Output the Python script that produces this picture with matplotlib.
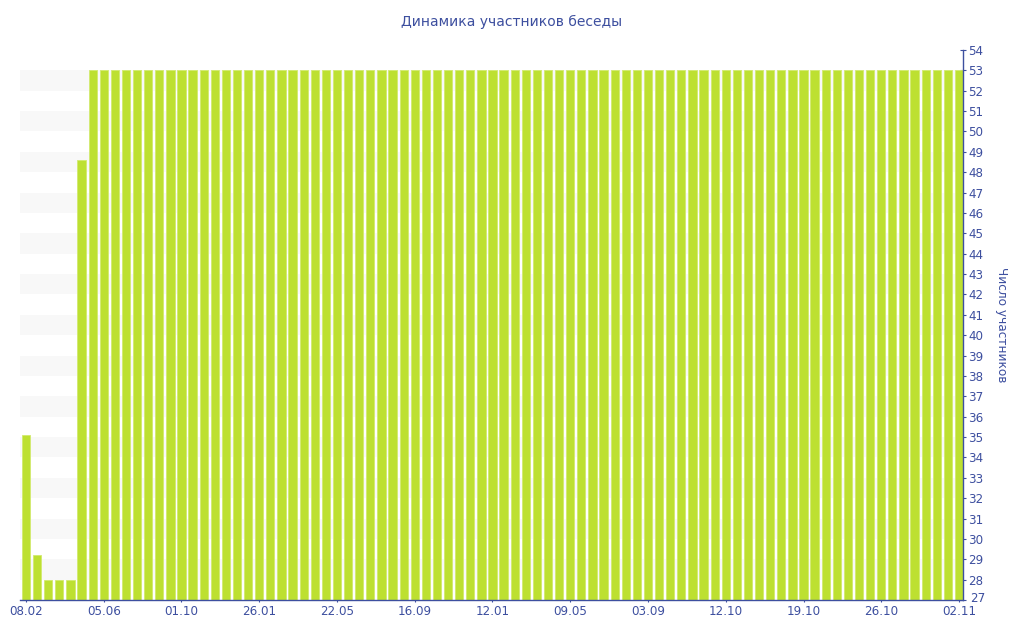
"""
Динамика участников беседы — столбчатая диаграмма с правой осью Y
"""

import matplotlib
matplotlib.use('Agg')
import matplotlib.pyplot as plt
import matplotlib.transforms as mtransforms

# Данные
valores = [35.1, 29.2, 28, 28, 28, 48.6] + [53] * 79
rotulos_x = ['08.02', '05.06', '01.10', '26.01', '22.05', '16.09', '12.01',
             '09.05', '03.09', '12.10', '19.10', '26.10', '02.11']
passo_rotulo = 7

COR_TEXTO = '#3d4f9f'
COR_BARRA = '#bde031'

fig = plt.figure(figsize=(10.24, 6.4), dpi=100)
ax = fig.add_axes([20 / 1024, 40 / 640, 943 / 1024, 550 / 640])

x = list(range(len(valores)))

# Faixas cinzas alternadas no fundo
for k in range(28, 54, 2):
    ax.axhspan(k, k + 1, color='#f8f8f8', zorder=0, lw=0)

ax.bar(x, valores, width=0.74, color=COR_BARRA, edgecolor='#d2ea6e',
       linewidth=0.6, zorder=2)

ax.set_xlim(-0.54, len(valores) - 1 + 0.36)
ax.set_ylim(27, 54)

# Eixo Y à direita
ax.yaxis.tick_right()
ax.yaxis.set_label_position('right')
ax.set_yticks(range(27, 55))
ax.set_ylabel('Число участников', color=COR_TEXTO, fontsize=8.7,
              rotation=270, labelpad=16)

ax.set_xticks(x[::passo_rotulo])
ax.set_xticklabels(rotulos_x)

ax.tick_params(axis='y', colors=COR_TEXTO, labelsize=8.6, length=4,
               width=0.8, pad=2, direction='inout')
ax.tick_params(axis='x', colors=COR_TEXTO, labelsize=8.6, length=3,
               width=0.8, pad=2, direction='inout')

# Afastar um pouco o rótulo "27" do "02.11"
desloc = mtransforms.ScaledTranslation(2 / 100, 3 / 100, fig.dpi_scale_trans)
rotulo_27 = ax.get_yticklabels()[0]
rotulo_27.set_transform(rotulo_27.get_transform() + desloc)

for lado in ['top', 'left']:
    ax.spines[lado].set_visible(False)
for lado in ['bottom', 'right']:
    ax.spines[lado].set_color(COR_TEXTO)
    ax.spines[lado].set_linewidth(1)

fig.text(512 / 1024, 1 - 22 / 640, 'Динамика участников беседы',
         ha='center', va='center', color=COR_TEXTO, fontsize=10)

fig.savefig('out.png', dpi=100)
